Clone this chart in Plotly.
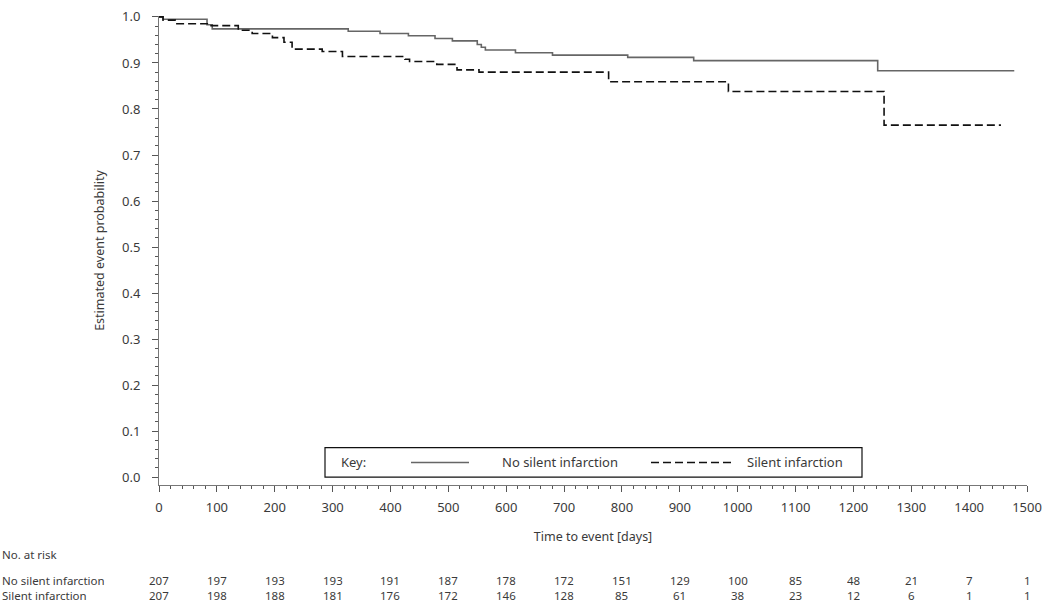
import plotly.graph_objects as go

# ---- data ----
no_silent_t = [0, 7, 83, 92, 327, 382, 431, 477, 507, 550, 557, 564, 616, 680, 810, 924, 1242, 1478]
no_silent_p = [1.0, 0.995, 0.983, 0.974, 0.969, 0.964, 0.959, 0.953, 0.948, 0.940, 0.934, 0.928, 0.922, 0.917, 0.912, 0.905, 0.883, 0.883]

silent_t = [0, 7, 28, 88, 137, 161, 196, 216, 230, 282, 317, 425, 433, 480, 515, 553, 777, 984, 1253, 1455]
silent_p = [1.0, 0.993, 0.985, 0.981, 0.971, 0.964, 0.955, 0.945, 0.930, 0.925, 0.914, 0.908, 0.903, 0.897, 0.885, 0.880, 0.859, 0.838, 0.765, 0.765]

risk_times = [0, 100, 200, 300, 400, 500, 600, 700, 800, 900, 1000, 1100, 1200, 1300, 1400, 1500]
risk_no_silent = [207, 197, 193, 193, 191, 187, 178, 172, 151, 129, 100, 85, 48, 21, 7, 1]
risk_silent = [207, 198, 188, 181, 176, 172, 146, 128, 85, 61, 38, 23, 12, 6, 1, 1]

y_tick_vals = [0.0, 0.1, 0.2, 0.3, 0.4, 0.5, 0.6, 0.7, 0.8, 0.9, 1.0]
y_tick_text = ["0.0", "0.1", "0.2", "0.3", "0.4", "0.5", "0.6", "0.7", "0.8", "0.9", "1.0"]

series_names = ["No silent infarction", "Silent infarction"]

# ---- layout geometry (pixels) ----
W, H = 1050, 605
L, R, T, B = 159, 23, 7, 120
PW = W - L - R
PH = H - T - B
FONT = "Noto Sans"
TXT = "#3a3a3a"


def px_x(px):
    return (px - L) / PW


def px_y(py):
    return (H - B - py) / PH


fig = go.Figure()
fig.add_trace(go.Scatter(x=no_silent_t, y=no_silent_p, mode="lines", line_shape="hv",
                         line=dict(color="#666666", width=1.6), name=series_names[0],
                         showlegend=False))
fig.add_trace(go.Scatter(x=silent_t, y=silent_p, mode="lines", line_shape="hv",
                         line=dict(color="#111111", width=1.6, dash="8px,4px"), name=series_names[1],
                         showlegend=False))

axis_common = dict(showline=True, linecolor="#777777", linewidth=1, ticks="outside",
                   tickcolor="#555555", ticklen=6, showgrid=False, zeroline=False,
                   ticklabeloverflow="allow",
                   tickfont=dict(family=FONT, size=13, color=TXT))

fig.update_xaxes(range=[0, 1500], tickmode="linear", tick0=0, dtick=100,
                 minor=dict(ticks="outside", dtick=20, ticklen=3, tickcolor="#555555"),
                 ticklabelstandoff=4,
                 title=dict(text="Time to event [days]", font=dict(family=FONT, size=12.5, color=TXT), standoff=17),
                 **axis_common)
fig.update_yaxes(range=[-0.017, 1.002], tickmode="array", tickvals=y_tick_vals, ticktext=y_tick_text,
                 minor=dict(ticks="outside", tickmode="linear", tick0=0, dtick=0.02, ticklen=3, tickcolor="#555555"),
                 ticklabelstandoff=9,
                 title=dict(text="Estimated event probability", font=dict(family=FONT, size=12.5, color=TXT), standoff=14),
                 **axis_common)

shapes = []
annotations = []

# legend ("Key") box
bx0, bx1, by0, by1 = 325, 862, 447, 477
ymid = (by0 + by1) / 2
shapes.append(dict(type="rect", xref="paper", yref="paper", x0=px_x(bx0), x1=px_x(bx1),
                   y0=px_y(by1), y1=px_y(by0), line=dict(color="#111111", width=1.2),
                   fillcolor="white", layer="above"))
shapes.append(dict(type="line", xref="paper", yref="paper", x0=px_x(411), x1=px_x(469),
                   y0=px_y(ymid), y1=px_y(ymid), line=dict(color="#666666", width=1.4), layer="above"))
shapes.append(dict(type="line", xref="paper", yref="paper", x0=px_x(651), x1=px_x(733),
                   y0=px_y(ymid), y1=px_y(ymid), line=dict(color="#111111", width=1.4, dash="8px,4px"),
                   layer="above"))
for txt, xp in [("Key:", 339), (series_names[0], 500), (series_names[1], 745)]:
    annotations.append(dict(text=txt, xref="paper", yref="paper", x=px_x(xp), y=px_y(ymid),
                            xanchor="left", yanchor="middle", showarrow=False,
                            font=dict(family=FONT, size=13, color=TXT)))

# number at risk table
annotations.append(dict(text="No. at risk", xref="paper", yref="paper", x=px_x(0), y=px_y(556),
                        xanchor="left", yanchor="middle", showarrow=False,
                        font=dict(family=FONT, size=11.5, color=TXT)))
for row_name, vals, py in [(series_names[0], risk_no_silent, 582), (series_names[1], risk_silent, 597.5)]:
    annotations.append(dict(text=row_name, xref="paper", yref="paper", x=px_x(0), y=px_y(py),
                            xanchor="left", yanchor="middle", showarrow=False, height=14,
                            font=dict(family=FONT, size=11.5, color=TXT)))
    for t, v in zip(risk_times, vals):
        annotations.append(dict(text=str(v), xref="x", yref="paper", x=t, y=px_y(py),
                                xanchor="center", yanchor="middle", showarrow=False, height=14,
                                font=dict(family=FONT, size=11.5, color=TXT)))

fig.update_layout(width=W, height=H, margin=dict(l=L, r=R, t=T, b=B),
                  plot_bgcolor="white", paper_bgcolor="white",
                  shapes=shapes, annotations=annotations, showlegend=False)

fig.write_html("out.html", config={"displayModeBar": False},
               post_script="document.body.style.margin='0px';document.body.style.overflow='hidden';")
